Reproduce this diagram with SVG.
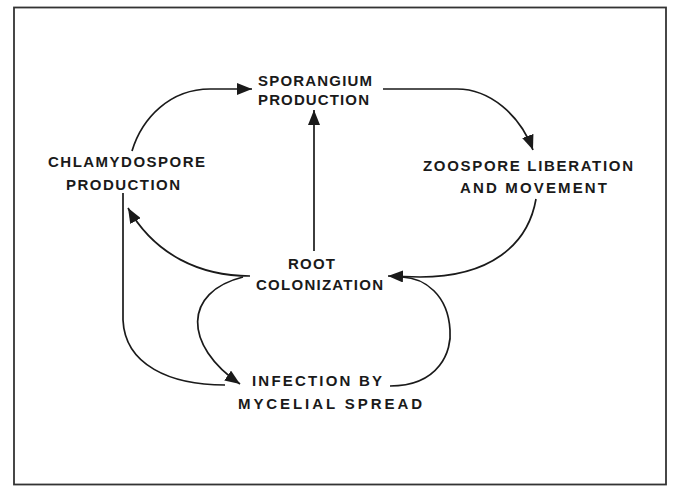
<svg xmlns="http://www.w3.org/2000/svg" width="674" height="486" viewBox="0 0 674 486">
<style>
.lbl{font-family:"Liberation Sans",Arial,sans-serif;font-size:15px;font-weight:bold;fill:#1a1a1a}
.c{fill:none;stroke:#1a1a1a;stroke-width:1.7}
</style>
<defs>
<marker id="ah" viewBox="0 0 15 12" refX="15" refY="6" markerWidth="15" markerHeight="12" markerUnits="userSpaceOnUse" orient="auto">
<path d="M0,0 L15,6 L0,12 Z" fill="#1a1a1a"/>
</marker>
</defs>
<rect x="0" y="0" width="674" height="486" fill="#ffffff"/>
<rect x="14" y="7.5" width="652" height="477" fill="none" stroke="#333" stroke-width="1.8"/>
<g id="connectors">
<path class="c" d="M132,151 C142,118 170,89 210,89 L252,89" marker-end="url(#ah)"/>
<path class="c" d="M383,89 L457,89 C490,89 520,115 533,150" marker-end="url(#ah)"/>
<path class="c" d="M536,199 C528,245 490,277 420,277 L388,276" marker-end="url(#ah)"/>
<path class="c" d="M390,386 C440,386 452,350 450,330 C448,295 425,278 402,277"/>
<path class="c" d="M314,251 L314,110" marker-end="url(#ah)"/>
<path class="c" d="M250,276 C200,276 155,255 128,208" marker-end="url(#ah)"/>
<path class="c" d="M243,277 C183,292 183,345 240,384" marker-end="url(#ah)"/>
<path class="c" d="M123,193 L123,320 C125,365 170,385 225,385"/>
</g>
<g id="sporangium">
<text class="lbl" x="258" y="86" textLength="114" lengthAdjust="spacing">SPORANGIUM</text>
<text class="lbl" x="258" y="105" textLength="111" lengthAdjust="spacing">PRODUCTION</text>
</g>
<g id="chlamydospore">
<text class="lbl" x="48" y="167" textLength="157" lengthAdjust="spacing">CHLAMYDOSPORE</text>
<text class="lbl" x="66" y="190" textLength="114" lengthAdjust="spacing">PRODUCTION</text>
</g>
<g id="zoospore">
<text class="lbl" x="423" y="171" textLength="210" lengthAdjust="spacing">ZOOSPORE LIBERATION</text>
<text class="lbl" x="460" y="193" textLength="147" lengthAdjust="spacing">AND MOVEMENT</text>
</g>
<g id="root">
<text class="lbl" x="288" y="269" textLength="47" lengthAdjust="spacing">ROOT</text>
<text class="lbl" x="256" y="290" textLength="127" lengthAdjust="spacing">COLONIZATION</text>
</g>
<g id="infection">
<text class="lbl" x="252" y="386" textLength="130" lengthAdjust="spacing">INFECTION BY</text>
<text class="lbl" x="238" y="409" textLength="184" lengthAdjust="spacing">MYCELIAL SPREAD</text>
</g>
</svg>
